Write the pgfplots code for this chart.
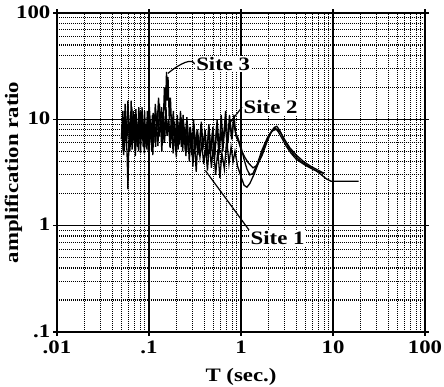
\documentclass[border=0pt]{standalone}
\usepackage{fontspec}
\setmainfont{Liberation Serif}[FakeStretch=1.2]
\usepackage{pgfplots}
\pgfplotsset{compat=1.18}
\newcommand{\lbl}{\fontsize{19bp}{21bp}\selectfont\bfseries}
\begin{document}
\begin{tikzpicture}
\begin{loglogaxis}[
  scale only axis, width=368bp, height=319bp,
  xmin=0.01, xmax=100, ymin=0.1, ymax=100,
  xtick={0.01,0.1,1,10,100}, xticklabels={.01,.1,1,10,100},
  ytick={0.1,1,10,100}, yticklabels={.1,1,10,100},
  grid=both,
  major grid style={black, line width=1.1pt},
  minor grid style={black, line width=1.1pt, dash pattern=on 1pt off 1pt},
  axis line style={line width=1.6pt},
  tick align=outside, major tick length=4bp, minor tick length=0pt,
  tick style={black, line width=1.3pt},
  ticklabel style={font=\lbl, inner sep=2.5bp},
  xticklabel style={yshift=-2bp},
  yticklabel style={yshift=1bp},
  label style={font=\lbl},
  xlabel={T (sec.)}, ylabel={amplification ratio},
  xlabel style={at={(axis description cs:0.5,-0.141)}, anchor=center},
  ylabel style={at={(axis description cs:-0.118,0.5)}, anchor=center},
]
% Site 1
\addplot[black, line width=1.3pt] coordinates {
(0.050,6.5) (0.052,12) (0.054,5) (0.056,10) (0.058,4.2) (0.059,2.2) (0.061,9) (0.063,5.5)
(0.065,13) (0.067,6) (0.069,11) (0.071,4.5) (0.074,9.5) (0.077,5) (0.080,12) (0.083,6.5)
(0.086,10) (0.089,4.8) (0.092,8.5) (0.095,5.2) (0.098,11) (0.102,6) (0.106,9) (0.110,4.6)
(0.114,10.5) (0.118,5.5) (0.123,12) (0.128,6.8) (0.133,9.5) (0.138,5) (0.143,11) (0.148,6.2)
(0.153,13) (0.158,7) (0.164,10) (0.170,5.4) (0.176,9) (0.183,4.8) (0.190,8) (0.198,4.4)
(0.206,9.5) (0.214,5.8) (0.223,10.5) (0.232,5) (0.242,8.5) (0.252,4.5) (0.262,9) (0.274,4)
(0.287,7.5) (0.300,3.6) (0.312,6.5) (0.326,3.2) (0.342,7) (0.358,4.4) (0.375,6) (0.393,3.8)
(0.412,5.5) (0.432,3.3) (0.454,6.2) (0.477,3.5) (0.50,5.8) (0.53,3.0) (0.56,5.2) (0.59,2.8)
(0.62,4.8) (0.66,3.4) (0.70,6.5) (0.74,3.8) (0.78,5.5) (0.82,4.0) (0.86,5.0)
(0.92,3.6) (1.0,2.9) (1.08,2.4) (1.16,2.3) (1.25,2.5) (1.4,3.1) (1.6,4.2) (1.8,5.6)
(2.0,7.0) (2.2,8.0) (2.35,8.3) (2.55,7.6) (2.8,6.6) (3.1,5.6) (3.5,4.8) (4.0,4.2)
(5.0,3.7) (6.0,3.4) (7.0,3.2) (8.0,3.1)
};
% Site 2
\addplot[black, line width=1.3pt] coordinates {
(0.051,8) (0.053,4.6) (0.055,14) (0.057,6) (0.060,11) (0.062,5) (0.064,15) (0.066,7)
(0.068,10) (0.070,5.2) (0.072,12.5) (0.075,6) (0.078,9.5) (0.081,4.8) (0.084,13) (0.087,7)
(0.090,9) (0.093,5.5) (0.096,12) (0.099,6.5) (0.103,10) (0.107,5) (0.111,11.5) (0.115,6.8)
(0.120,9) (0.125,5.6) (0.130,14) (0.135,7.5) (0.140,11) (0.146,6) (0.152,12) (0.157,7)
(0.163,10) (0.169,5.5) (0.175,11) (0.181,6.4) (0.188,9.5) (0.195,5) (0.203,11) (0.211,6)
(0.220,12) (0.229,5.8) (0.238,9) (0.248,5) (0.258,10.5) (0.270,5.5) (0.282,8.5) (0.295,4.6)
(0.308,9) (0.322,5.2) (0.337,8) (0.353,4.8) (0.370,9.5) (0.388,5.5) (0.407,8) (0.427,4.5)
(0.448,9) (0.470,5) (0.495,8.5) (0.52,4.6) (0.55,10) (0.58,5.2) (0.61,11) (0.64,5.8)
(0.68,12) (0.72,6) (0.76,10) (0.80,6.5) (0.84,11) (0.88,7)
(0.95,6.0) (1.0,5.2) (1.1,4.4) (1.2,3.9) (1.35,3.5) (1.5,3.7) (1.7,4.6) (1.9,6.0)
(2.1,7.4) (2.3,8.4) (2.45,8.6) (2.65,7.8) (2.9,6.6) (3.3,5.4) (3.8,4.6) (4.5,4.0)
(5.5,3.6) (6.5,3.3) (7.5,3.0) (8.5,2.75) (9.5,2.62) (19,2.62)
};
% Site 3
\addplot[black, line width=1.3pt] coordinates {
(0.0505,9) (0.0525,5) (0.0545,12) (0.0565,7) (0.059,15) (0.0615,6) (0.0635,10) (0.0655,5.2)
(0.0675,12) (0.0695,6.5) (0.0715,9) (0.0745,5.5) (0.0775,13) (0.0805,7) (0.0835,10.5) (0.0865,5.5)
(0.0895,12) (0.0925,6) (0.0955,9.5) (0.0985,5) (0.101,13) (0.105,7) (0.109,11) (0.113,6)
(0.117,14) (0.122,8) (0.127,16) (0.132,9) (0.137,13) (0.142,7.5) (0.147,20) (0.151,12)
(0.155,28) (0.158,15) (0.161,25) (0.166,10) (0.171,16) (0.177,7.5) (0.184,12) (0.191,6)
(0.199,10) (0.207,5.2) (0.216,9) (0.225,5.5) (0.235,11) (0.245,6) (0.256,9.5) (0.267,5)
(0.279,8.5) (0.292,4.6) (0.305,10) (0.319,5.5) (0.334,8) (0.350,4.6) (0.367,9) (0.385,5.2)
(0.404,7.5) (0.424,4.3) (0.445,8.5) (0.468,4.8) (0.49,7.5) (0.515,4.2) (0.545,9) (0.575,4.6)
(0.605,8) (0.635,5) (0.67,9.5) (0.71,5.5) (0.75,11) (0.79,6.5) (0.83,10) (0.87,7.5)
(0.92,6.8) (1.0,5.5) (1.08,4.2) (1.16,3.4) (1.25,3.0) (1.35,3.1) (1.5,3.8) (1.7,5.2)
(1.95,6.8) (2.2,7.8) (2.45,8.1) (2.7,7.5) (3.0,6.4) (3.4,5.4) (4.0,4.6) (4.8,4.0)
(5.8,3.6) (7.0,3.3) (8.0,3.1)
};
\node[fill=white, inner sep=1.5pt, font=\lbl] (s3) at (axis cs:0.64,33) {Site 3};
\node[fill=white, inner sep=1.5pt, font=\lbl] (s2) at (axis cs:2.1,13) {Site 2};
\node[fill=white, inner sep=1.5pt, font=\lbl] (s1) at (axis cs:2.5,0.76) {Site 1};
\draw[black, line width=1.2pt] (s3.west) .. controls (axis cs:0.3,38) and (axis cs:0.22,34) .. (axis cs:0.16,27);
\draw[black, line width=1.2pt] (s2.west) -- (axis cs:0.72,8.8);
\draw[black, line width=1.2pt] (s1.north west) -- (axis cs:0.41,3.3);
\end{loglogaxis}
\pgfresetboundingbox
\useasboundingbox ([xshift=-57bp,yshift=-55bp]current axis.south west) rectangle ([xshift=19bp,yshift=13bp]current axis.north east);
\end{tikzpicture}
\end{document}
